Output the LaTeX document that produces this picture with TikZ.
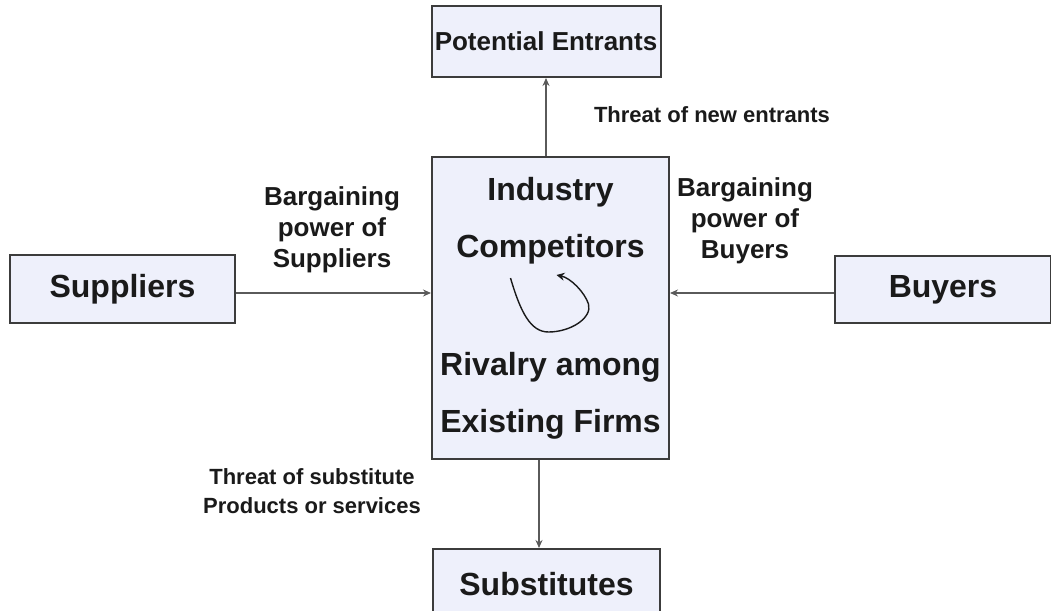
\documentclass[tikz,border=0pt]{standalone}
\usepackage{fontspec}
\setmainfont{Liberation Sans}
\usetikzlibrary{positioning,arrows.meta}
\definecolor{boxfill}{HTML}{EEF0FB}
\definecolor{boxline}{HTML}{3C3C3C}
\definecolor{ink}{HTML}{1A1A1A}
\definecolor{edge}{HTML}{5A5A5A}

\begin{document}
\begin{tikzpicture}[
    every node/.style={text=ink, font=\bfseries},
    force/.style={draw=boxline, fill=boxfill, line width=1pt, align=center,
                  inner sep=0pt, font=\bfseries\fontsize{16}{19}\selectfont},
    rival/.style={force, minimum width=118.5pt, minimum height=151pt,
                  font=\bfseries\fontsize{16}{28.5}\selectfont},
    tag/.style={align=center, font=\bfseries\fontsize{13}{15.5}\selectfont},
    small/.style={align=center, font=\bfseries\fontsize{11}{14.5}\selectfont},
    rel/.style={-{Stealth[length=4pt,width=3.5pt]}, draw=edge, line width=0.8pt},
    curl/.style={-{Stealth[length=4pt,width=4pt]}, draw=ink, line width=0.7pt},
  ]
  \useasboundingbox (0,0) rectangle (525.5pt,-305.5pt);

  % the industry in the middle
  \node[rival] (comp) at (275.25pt,-154pt)
        {Industry\\Competitors\\[30.5pt]Rivalry among\\Existing Firms};
  \draw[curl] ([shift={(-20pt,15pt)}]comp.center)
        .. controls ([shift={(-15pt,-2pt)}]comp.center) and ([shift={(-10pt,-12pt)}]comp.center)
        .. ([shift={(-1pt,-12pt)}]comp.center)
        .. controls ([shift={(10pt,-12pt)}]comp.center) and ([shift={(21pt,-5pt)}]comp.center)
        .. ([shift={(19pt,2pt)}]comp.center)
        .. controls ([shift={(17pt,8pt)}]comp.center) and ([shift={(10pt,15pt)}]comp.center)
        .. ([shift={(3pt,16.5pt)}]comp.center);

  % the four outer forces
  \node[force, above=39pt of comp, xshift=-2.25pt, minimum width=114.5pt, minimum height=35.5pt,
        font=\bfseries\fontsize{13}{15}\selectfont] (entr) {Potential Entrants};
  \node[force, left=97.5pt of comp, yshift=9.5pt, minimum width=112.5pt, minimum height=34pt]
        (supp) {Suppliers};
  \node[force, right=82pt of comp, yshift=9.25pt, minimum width=108pt, minimum height=33.5pt]
        (buy) {Buyers};
  \node[force, below=44pt of comp, xshift=-2pt, minimum width=113.5pt, minimum height=35.5pt]
        (subs) {Substitutes};

  \draw[rel] (comp.north -| entr.south) -- (entr.south);
  \draw[rel] ([yshift=-2pt]supp.east) -- ([yshift=-2pt]supp.east -| comp.west);
  \draw[rel] ([yshift=-1.75pt]buy.west) -- ([yshift=-1.75pt]buy.west -| comp.east);
  \draw[rel] ([xshift=-5.75pt]comp.south) -- ([xshift=-5.75pt]comp.south |- subs.north);

  % labels of the forces
  \node[small] (lentr) at (356pt,-57.5pt) {Threat of new entrants};
  \node[tag]   (lsupp) at (166pt,-115pt) {Bargaining\\power of\\Suppliers};
  \node[tag]   (lbuy)  at (372.5pt,-110.5pt) {Bargaining\\power of\\Buyers};
  \node[small] (lsubs) at (156pt,-245.5pt) {Threat of substitute\\Products or services};
\end{tikzpicture}
\end{document}
